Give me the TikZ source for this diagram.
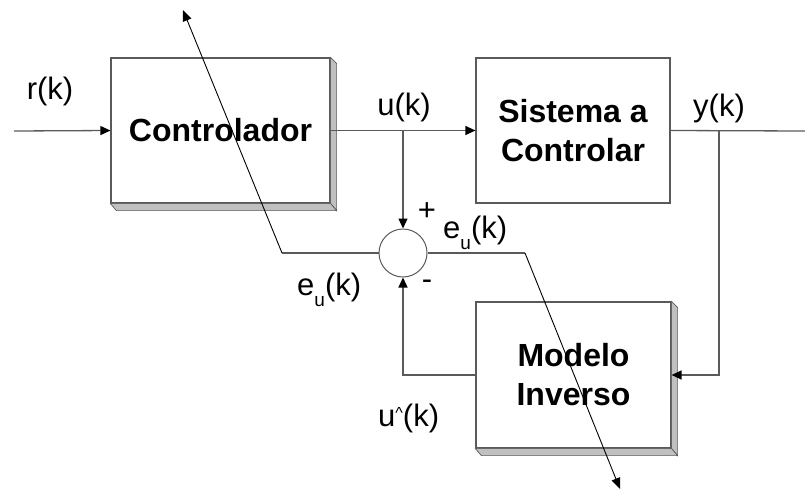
\documentclass[tikz,border=0pt]{standalone}
\usepackage{fontspec}
\setmainfont{Liberation Sans}
\usetikzlibrary{arrows.meta,calc}
\definecolor{ln}{RGB}{90,90,90}
\definecolor{shd}{RGB}{192,192,192}
\newcommand\eulbl{e\raisebox{-11pt}{\fontsize{19}{19}\selectfont u}(k)}
\newcommand\uhatlbl{u\raisebox{8pt}{\fontsize{16}{16}\selectfont\textasciicircum}(k)}
\begin{document}
\begin{tikzpicture}[x=1pt,y=-1pt,
  lbl/.style={font=\fontsize{31}{36}\selectfont, inner sep=0pt},
  blk/.style={draw=ln, line width=1.2pt, fill=white, font=\bfseries\fontsize{32}{39}\selectfont, align=center, inner sep=0pt},
  wire/.style={draw=ln, line width=1.3pt},
  arr/.style={-{Triangle[length=10pt,width=9pt,black]}},
  adapt/.style={draw=black, line width=0.9pt, -{Triangle[length=11pt,width=9pt]}},
  bev/.style={fill=shd, draw=ln, line width=0.7pt, line join=miter},
]
\useasboundingbox (0,0) rectangle (805,490);

% blocks
\node[blk, minimum width=219pt, minimum height=145pt] (ctrl) at (220.5,130.5) {Controlador};
\node[blk, minimum width=194pt, minimum height=145pt] (plant) at (573,130.5) {Sistema a\\Controlar};
\node[blk, minimum width=195pt, minimum height=146pt] (inv) at (573.5,375) {Modelo\\Inverso};
\node[circle, draw=ln, line width=1pt, fill=white, minimum size=48pt, inner sep=0pt] (sum) at (403,253) {};

% bevels
\foreach \b in {ctrl,inv}{
  \path[bev] (\b.north east) -- ++(6,6) -- ($(\b.south east)+(6,7)$) -- (\b.south east) -- cycle;
  \path[bev] (\b.south west) -- ++(6,7) -- ($(\b.south east)+(6,7)$) -- (\b.south east) -- cycle;
}

% coordinates
\coordinate (rin) at (14,131);
\coordinate (yout) at (805,131);
\coordinate (ub) at (403,131);
\coordinate (yb) at (719,131);
\coordinate (el) at (282,253);
\coordinate (etop) at (183,10);
\coordinate (er) at (525,253);
\coordinate (ebot) at (620,489);

% wires
\draw[wire,arr] (rin) -- (ctrl.west);
\draw[wire,arr] (ctrl.east) -- (plant.west);
\draw[wire,arr] (ub) -- (sum.north);
\draw[wire] (plant.east) -- (yout);
\draw[wire,arr] (yb) |- (inv.east);
\draw[wire,arr] (inv.west) -| (sum.south);
\draw[wire] (sum.west) -- (el);
\draw[adapt] (el) -- (etop);
\draw[wire] (sum.east) -- (er);
\draw[adapt] (er) -- (ebot);

% labels
\node[lbl, anchor=base] (lr) at (50,99) {r(k)};
\node[lbl, anchor=base] (lu) at (404,115) {u(k)};
\node[lbl, anchor=base] (ly) at (719,116) {y(k)};
\node[lbl] (lp) at (427,212) {+};
\node[lbl] (lm) at (427,285) {-};
\node[lbl, anchor=base west] (le1) at (443,238) {\eulbl};
\node[lbl, anchor=base west] (le2) at (297,295) {\eulbl};
\node[lbl, anchor=base west] (luh) at (378,426) {\uhatlbl};
\end{tikzpicture}
\end{document}
